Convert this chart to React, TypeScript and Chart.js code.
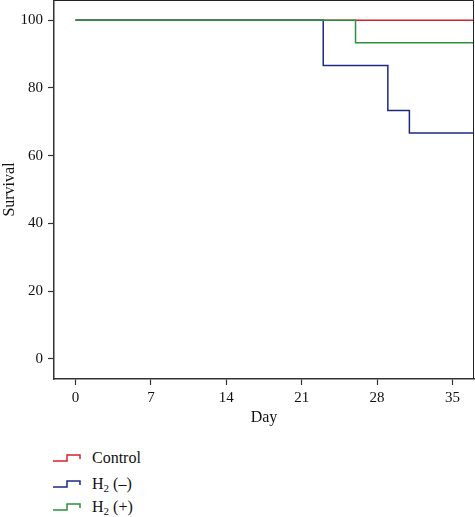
import React, { useEffect, useRef } from "react";
import { Chart, registerables } from "chart.js";

Chart.register(...registerables);

// ---- data ----
const controlDays = [0, 37];
const controlSurvival = [100, 100];
const h2MinusDays = [0, 23, 29, 31, 37];
const h2MinusSurvival = [100, 86.67, 73.33, 66.67, 66.67];
const h2PlusDays = [0, 26, 37];
const h2PlusSurvival = [100, 93.33, 93.33];

const xTicks = [0, 7, 14, 21, 28, 35];
const yTicks = [0, 20, 40, 60, 80, 100];

const seriesNames = ["Control", "H2 (−)", "H2 (+)"];
const seriesColors = ["#d3222c", "#1c2a84", "#2f8f3c"];

const FONT = "'Liberation Serif', 'DejaVu Serif', serif";

const toPoints = (xs: number[], ys: number[]) => xs.map((x, i) => ({ x, y: ys[i] }));

const framePlugin = {
  id: "frame",
  afterDatasetsDraw(chart: any) {
    const { ctx, chartArea } = chart;
    ctx.save();
    ctx.strokeStyle = "#222";
    ctx.lineWidth = 1;
    ctx.beginPath();
    ctx.moveTo(chartArea.left, chartArea.top + 0.5);
    ctx.lineTo(chartArea.right - 0.5, chartArea.top + 0.5);
    ctx.lineTo(chartArea.right - 0.5, chartArea.bottom);
    ctx.stroke();
    ctx.restore();
  },
};

function StepIcon({ color }: { color: string }) {
  return (
    <svg width={30} height={12} style={{ display: "block" }}>
      <polyline
        points="1,9 15,9 15,3 28,3 28,7"
        fill="none"
        stroke={color}
        strokeWidth={1.5}
      />
    </svg>
  );
}

export default function App() {
  const canvasRef = useRef<HTMLCanvasElement | null>(null);

  useEffect(() => {
    if (!canvasRef.current) return;
    const mk = (i: number, xs: number[], ys: number[], order: number) => ({
      label: seriesNames[i],
      data: toPoints(xs, ys),
      borderColor: seriesColors[i],
      borderWidth: 1.5,
      stepped: "before" as const,
      pointRadius: 0,
      fill: false,
      order,
    });
    const chart = new Chart(canvasRef.current, {
      type: "line",
      data: {
        datasets: [
          mk(0, controlDays, controlSurvival, 3),
          mk(1, h2MinusDays, h2MinusSurvival, 2),
          mk(2, h2PlusDays, h2PlusSurvival, 1),
        ],
      },
      options: {
        responsive: false,
        animation: false,
        layout: { padding: { top: 0, right: 1, left: 0, bottom: 0 } },
        plugins: {
          legend: { display: false },
          tooltip: { enabled: false },
        },
        scales: {
          x: {
            type: "linear",
            min: -2,
            max: 37,
            afterBuildTicks: (scale: any) => {
              scale.ticks = xTicks.map((v) => ({ value: v }));
            },
            afterFit: (scale: any) => {
              scale.height = 51;
              scale.paddingLeft = 0;
              scale.paddingRight = 0;
            },
            ticks: {
              autoSkip: false,
              maxRotation: 0,
              padding: 4,
              color: "#111",
              font: { family: FONT, size: 15 },
            },
            grid: {
              display: true,
              drawOnChartArea: false,
              drawTicks: true,
              tickLength: 6,
              tickWidth: 1.2,
              color: "#333",
            },
            border: { display: true, color: "#333", width: 1.5 },
            title: {
              display: true,
              text: "Day",
              color: "#111",
              font: { family: FONT, size: 16 },
              padding: { top: 0, bottom: 3 },
            },
          },
          y: {
            type: "linear",
            min: -6,
            max: 106,
            afterBuildTicks: (scale: any) => {
              scale.ticks = yTicks.map((v) => ({ value: v }));
            },
            afterFit: (scale: any) => {
              scale.width = 54;
              scale.paddingTop = 0;
              scale.paddingBottom = 0;
            },
            ticks: {
              padding: 5,
              color: "#111",
              font: { family: FONT, size: 15 },
            },
            grid: {
              display: true,
              drawOnChartArea: false,
              drawTicks: true,
              tickLength: 6,
              tickWidth: 1.2,
              color: "#333",
            },
            border: { display: true, color: "#333", width: 1.5 },
            title: {
              display: true,
              text: "Survival",
              color: "#111",
              font: { family: FONT, size: 16 },
              padding: { top: 0, bottom: 0 },
            },
          },
        },
      },
      plugins: [framePlugin],
    });
    return () => chart.destroy();
  }, []);

  const subStyle = { fontSize: "11px", verticalAlign: "-3px", lineHeight: 0 };
  const legendRows = [
    { color: seriesColors[0], label: <>Control</>, y: 458 },
    { color: seriesColors[1], label: <>H<sub style={subStyle}>2</sub> (–)</>, y: 484 },
    { color: seriesColors[2], label: <>H<sub style={subStyle}>2</sub> (+)</>, y: 507 },
  ];

  return (
    <div style={{ position: "absolute", left: 0, top: 0, width: 475, height: 517, background: "#fff" }}>
      <canvas ref={canvasRef} width={475} height={430} style={{ display: "block" }} />
      {legendRows.map((r, i) => (
        <div
          key={i}
          style={{
            position: "absolute",
            left: 52,
            top: r.y - 10,
            height: 20,
            display: "flex",
            alignItems: "center",
            fontFamily: FONT,
            fontSize: 16,
            color: "#111",
          }}
        >
          <StepIcon color={r.color} />
          <span style={{ marginLeft: 10, lineHeight: "20px" }}>{r.label}</span>
        </div>
      ))}
    </div>
  );
}
